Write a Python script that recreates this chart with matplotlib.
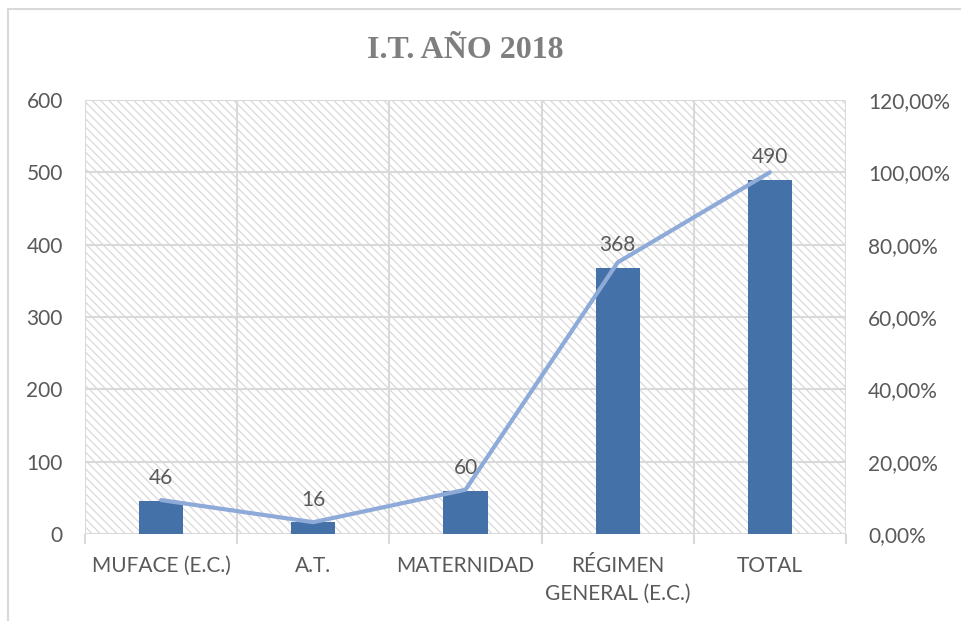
import numpy as np
import matplotlib.pyplot as plt
from matplotlib.patches import Rectangle
from matplotlib.ticker import FuncFormatter

plt.rcParams['hatch.color'] = '#d9d9d9'
plt.rcParams['hatch.linewidth'] = 0.9

# data
categorias = ["MUFACE (E.C.)", "A.T.", "MATERNIDAD", "RÉGIMEN\nGENERAL (E.C.)", "TOTAL"]
casos = [46, 16, 60, 368, 490]
total = 490
porcentaje = [c / total * 100 for c in casos]

texto = '#595959'
rejilla = '#d9d9d9'
fuente = 'Lato'
tam = 15

fig = plt.figure(figsize=(9.61, 6.21), dpi=100)
ax = fig.add_axes([85 / 961, 1 - 534 / 621, (846 - 85) / 961, (534 - 100) / 621])
ax2 = ax.twinx()

x = np.arange(len(categorias))
barras = ax.bar(x, casos, width=0.29, color='#4472a8', zorder=3)
for xi, v in zip(x, casos):
    ax.annotate(str(v), (xi, v), xytext=(0, 9), textcoords='offset points',
                ha='center', va='bottom', fontsize=tam, color=texto, family=fuente)

ax2.plot(x, porcentaje, color='#8eaad8', lw=3, solid_capstyle='round', zorder=4)

# fondo rayado
ax.patch.set_facecolor('white')
ax.patch.set_hatch('\\' * 4)
ax.patch.set_edgecolor(rejilla)
ax.patch.set_linewidth(0)

ax.set_xlim(-0.5, len(categorias) - 0.5)
ax.set_ylim(0, 600)
ax.set_yticks(range(0, 601, 100))
ax2.set_ylim(0, 120)
ax2.set_yticks(range(0, 121, 20))
ax2.yaxis.set_major_formatter(FuncFormatter(lambda v, p: f"{v:.2f}%".replace('.', ',')))

ax.set_xticks(x)
ax.set_xticklabels(categorias, linespacing=1.45)
ax.set_xticks(np.arange(-0.5, len(categorias)), minor=True)
ax.tick_params(axis='x', which='major', length=0, pad=16)
ax.tick_params(axis='x', which='minor', length=7, color=rejilla, width=1.5)
ax.tick_params(axis='y', length=0, pad=16)
ax2.tick_params(axis='y', length=0, pad=16)
for lab in ax.get_xticklabels() + ax.get_yticklabels() + ax2.get_yticklabels():
    lab.set_fontsize(tam)
    lab.set_color(texto)
    lab.set_family(fuente)

ax.grid(axis='y', which='major', color=rejilla, lw=1.5, zorder=1)
ax.grid(axis='x', which='minor', color=rejilla, lw=1.5, zorder=1)
ax.set_axisbelow(True)
for a in (ax, ax2):
    for s in a.spines.values():
        s.set_visible(False)

fig.text(465.5 / 961, 1 - 50 / 621, "I.T. AÑO 2018", ha='center', va='center',
         fontsize=23, fontweight='bold', color='#7f7f7f', family='Liberation Serif')

# marco del gráfico
fig.patches.append(Rectangle((8 / 961, -0.1), 1.2, 1 - 9 / 621 + 0.1,
                             transform=fig.transFigure, fill=False,
                             edgecolor=rejilla, lw=1.5))

fig.savefig("out.png", dpi=100)
